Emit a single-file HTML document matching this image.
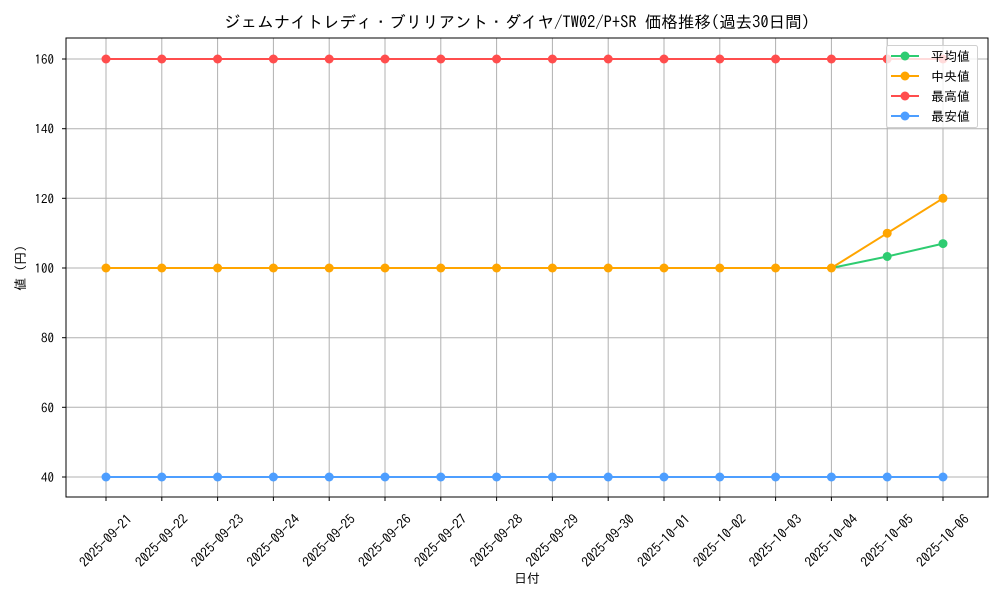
<!DOCTYPE html>
<html><head><meta charset="utf-8"><style>
html,body{margin:0;padding:0;background:#fff;}
svg{display:block;font-family:"IPAGothic","Liberation Sans","Noto Sans CJK JP",sans-serif;}
</style></head><body>
<svg width="1000" height="600" viewBox="0 0 1000 600" xmlns="http://www.w3.org/2000/svg">
<rect width="1000" height="600" fill="#fff"/>
<text x="517" y="28" font-size="16.5" text-anchor="middle" fill="#000">ジェムナイトレディ・ブリリアント・ダイヤ/TW02/P+SR 価格推移(過去30日間)</text>
<g stroke="#b0b0b0" stroke-width="1">
<line x1="106" y1="38" x2="106" y2="497"/><line x1="161.8" y1="38" x2="161.8" y2="497"/><line x1="217.6" y1="38" x2="217.6" y2="497"/><line x1="273.4" y1="38" x2="273.4" y2="497"/><line x1="329.2" y1="38" x2="329.2" y2="497"/><line x1="385" y1="38" x2="385" y2="497"/><line x1="440.8" y1="38" x2="440.8" y2="497"/><line x1="496.6" y1="38" x2="496.6" y2="497"/><line x1="552.4" y1="38" x2="552.4" y2="497"/><line x1="608.2" y1="38" x2="608.2" y2="497"/><line x1="664" y1="38" x2="664" y2="497"/><line x1="719.8" y1="38" x2="719.8" y2="497"/><line x1="775.6" y1="38" x2="775.6" y2="497"/><line x1="831.4" y1="38" x2="831.4" y2="497"/><line x1="887.2" y1="38" x2="887.2" y2="497"/><line x1="943" y1="38" x2="943" y2="497"/>
<line x1="66" y1="59" x2="988" y2="59"/><line x1="66" y1="128.7" x2="988" y2="128.7"/><line x1="66" y1="198.3" x2="988" y2="198.3"/><line x1="66" y1="268" x2="988" y2="268"/><line x1="66" y1="337.7" x2="988" y2="337.7"/><line x1="66" y1="407.3" x2="988" y2="407.3"/><line x1="66" y1="477" x2="988" y2="477"/>
</g>
<g stroke="#000" stroke-width="1">
<line x1="62" y1="59" x2="66" y2="59"/><line x1="62" y1="128.7" x2="66" y2="128.7"/><line x1="62" y1="198.3" x2="66" y2="198.3"/><line x1="62" y1="268" x2="66" y2="268"/><line x1="62" y1="337.7" x2="66" y2="337.7"/><line x1="62" y1="407.3" x2="66" y2="407.3"/><line x1="62" y1="477" x2="66" y2="477"/>
<line x1="106" y1="497" x2="106" y2="501"/><line x1="161.8" y1="497" x2="161.8" y2="501"/><line x1="217.6" y1="497" x2="217.6" y2="501"/><line x1="273.4" y1="497" x2="273.4" y2="501"/><line x1="329.2" y1="497" x2="329.2" y2="501"/><line x1="385" y1="497" x2="385" y2="501"/><line x1="440.8" y1="497" x2="440.8" y2="501"/><line x1="496.6" y1="497" x2="496.6" y2="501"/><line x1="552.4" y1="497" x2="552.4" y2="501"/><line x1="608.2" y1="497" x2="608.2" y2="501"/><line x1="664" y1="497" x2="664" y2="501"/><line x1="719.8" y1="497" x2="719.8" y2="501"/><line x1="775.6" y1="497" x2="775.6" y2="501"/><line x1="831.4" y1="497" x2="831.4" y2="501"/><line x1="887.2" y1="497" x2="887.2" y2="501"/><line x1="943" y1="497" x2="943" y2="501"/>
</g>
<g font-size="13" text-anchor="end" fill="#000">
<text x="54" y="64">160</text><text x="54" y="133.7">140</text><text x="54" y="203.3">120</text><text x="54" y="273">100</text><text x="54" y="342.7">80</text><text x="54" y="412.3">60</text><text x="54" y="482">40</text>
</g>
<g font-size="13.5" text-anchor="end" fill="#000">
<text transform="translate(133,520) rotate(-45)">2025-09-21</text>
<text transform="translate(188.8,520) rotate(-45)">2025-09-22</text>
<text transform="translate(244.6,520) rotate(-45)">2025-09-23</text>
<text transform="translate(300.4,520) rotate(-45)">2025-09-24</text>
<text transform="translate(356.2,520) rotate(-45)">2025-09-25</text>
<text transform="translate(412,520) rotate(-45)">2025-09-26</text>
<text transform="translate(467.8,520) rotate(-45)">2025-09-27</text>
<text transform="translate(523.6,520) rotate(-45)">2025-09-28</text>
<text transform="translate(579.4,520) rotate(-45)">2025-09-29</text>
<text transform="translate(635.2,520) rotate(-45)">2025-09-30</text>
<text transform="translate(691,520) rotate(-45)">2025-10-01</text>
<text transform="translate(746.8,520) rotate(-45)">2025-10-02</text>
<text transform="translate(802.6,520) rotate(-45)">2025-10-03</text>
<text transform="translate(858.4,520) rotate(-45)">2025-10-04</text>
<text transform="translate(914.2,520) rotate(-45)">2025-10-05</text>
<text transform="translate(970,520) rotate(-45)">2025-10-06</text>
</g>
<text x="527" y="583" font-size="13" text-anchor="middle">日付</text>
<text transform="translate(25,268) rotate(-90)" font-size="13" text-anchor="middle">値 (円)</text>
<polyline fill="none" stroke="#2ecc71" stroke-width="2" points="106,268 831.4,268 887.2,256.5 943,243.6"/>
<polyline fill="none" stroke="#ffa500" stroke-width="2" points="106,268 831.4,268 887.2,233.2 943,198.3"/>
<polyline fill="none" stroke="#ff4d4d" stroke-width="2" points="106,59 943,59"/>
<polyline fill="none" stroke="#4d9eff" stroke-width="2" points="106,477 943,477"/>
<g fill="#ffa500">
<circle cx="106" cy="268" r="4.5"/><circle cx="161.8" cy="268" r="4.5"/><circle cx="217.6" cy="268" r="4.5"/><circle cx="273.4" cy="268" r="4.5"/><circle cx="329.2" cy="268" r="4.5"/><circle cx="385" cy="268" r="4.5"/><circle cx="440.8" cy="268" r="4.5"/><circle cx="496.6" cy="268" r="4.5"/><circle cx="552.4" cy="268" r="4.5"/><circle cx="608.2" cy="268" r="4.5"/><circle cx="664" cy="268" r="4.5"/><circle cx="719.8" cy="268" r="4.5"/><circle cx="775.6" cy="268" r="4.5"/><circle cx="831.4" cy="268" r="4.5"/><circle cx="887.2" cy="233.2" r="4.5"/><circle cx="943" cy="198.3" r="4.5"/>
</g>
<g fill="#2ecc71"><circle cx="887.2" cy="256.5" r="4.5"/><circle cx="943" cy="243.6" r="4.5"/></g>
<g fill="#ff4d4d">
<circle cx="106" cy="59" r="4.5"/><circle cx="161.8" cy="59" r="4.5"/><circle cx="217.6" cy="59" r="4.5"/><circle cx="273.4" cy="59" r="4.5"/><circle cx="329.2" cy="59" r="4.5"/><circle cx="385" cy="59" r="4.5"/><circle cx="440.8" cy="59" r="4.5"/><circle cx="496.6" cy="59" r="4.5"/><circle cx="552.4" cy="59" r="4.5"/><circle cx="608.2" cy="59" r="4.5"/><circle cx="664" cy="59" r="4.5"/><circle cx="719.8" cy="59" r="4.5"/><circle cx="775.6" cy="59" r="4.5"/><circle cx="831.4" cy="59" r="4.5"/><circle cx="887.2" cy="59" r="4.5"/><circle cx="943" cy="59" r="4.5"/>
</g>
<g fill="#4d9eff">
<circle cx="106" cy="477" r="4.5"/><circle cx="161.8" cy="477" r="4.5"/><circle cx="217.6" cy="477" r="4.5"/><circle cx="273.4" cy="477" r="4.5"/><circle cx="329.2" cy="477" r="4.5"/><circle cx="385" cy="477" r="4.5"/><circle cx="440.8" cy="477" r="4.5"/><circle cx="496.6" cy="477" r="4.5"/><circle cx="552.4" cy="477" r="4.5"/><circle cx="608.2" cy="477" r="4.5"/><circle cx="664" cy="477" r="4.5"/><circle cx="719.8" cy="477" r="4.5"/><circle cx="775.6" cy="477" r="4.5"/><circle cx="831.4" cy="477" r="4.5"/><circle cx="887.2" cy="477" r="4.5"/><circle cx="943" cy="477" r="4.5"/>
</g>
<rect x="66" y="38" width="922" height="459" fill="none" stroke="#000" stroke-width="1"/>
<rect x="886.5" y="45.5" width="91" height="82" rx="2" fill="#fff" fill-opacity="0.8" stroke="#d0d0d0"/>
<g stroke-width="2">
<line x1="891" y1="56" x2="919" y2="56" stroke="#2ecc71"/><circle cx="905" cy="56" r="4.5" fill="#2ecc71"/>
<line x1="891" y1="76" x2="919" y2="76" stroke="#ffa500"/><circle cx="905" cy="76" r="4.5" fill="#ffa500"/>
<line x1="891" y1="96" x2="919" y2="96" stroke="#ff4d4d"/><circle cx="905" cy="96" r="4.5" fill="#ff4d4d"/>
<line x1="891" y1="116" x2="919" y2="116" stroke="#4d9eff"/><circle cx="905" cy="116" r="4.5" fill="#4d9eff"/>
</g>
<g font-size="13" fill="#000">
<text x="931" y="61">平均値</text><text x="931" y="81">中央値</text><text x="931" y="101">最高値</text><text x="931" y="121">最安値</text>
</g>
</svg>
</body></html>
